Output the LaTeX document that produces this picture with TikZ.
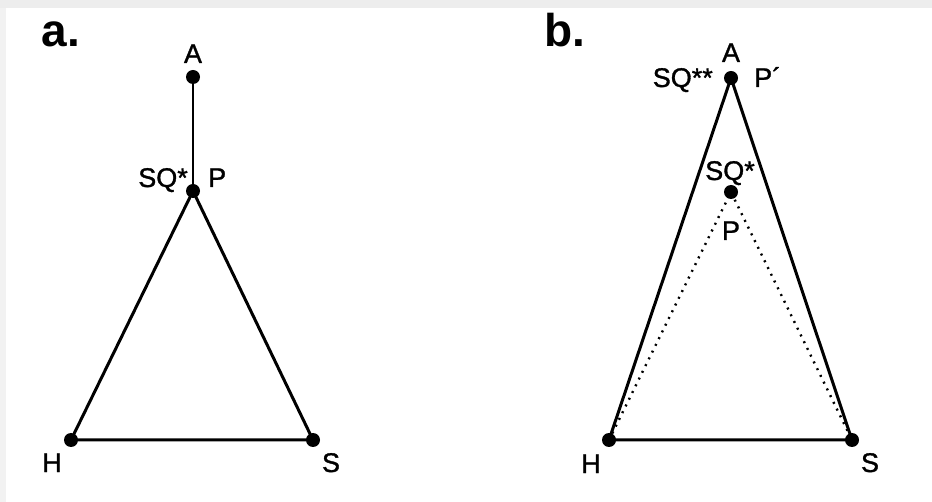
\documentclass[tikz,border=0pt]{standalone}
\usepackage{fontspec}
\setmainfont{Liberation Sans}
\newfontfamily\lblfont[FakeBold=1.2]{Liberation Sans}
\begin{document}
\begin{tikzpicture}[x=1pt,y=-1pt,
  pt/.style={circle,fill=black,inner sep=0pt,minimum size=14pt},
  lbl/.style={inner sep=0pt,font=\lblfont\fontsize{27}{27}\selectfont},
  edge/.style={line width=3pt},
  thinedge/.style={line width=2.2pt},
  dot/.style={line width=2.4pt,dash pattern=on 2pt off 5.5pt},
  ttl/.style={inner sep=0pt,font=\fontsize{46}{46}\selectfont\bfseries}]
\useasboundingbox (0,0) rectangle (932,502);
\fill[white] (0,0) rectangle (932,502);
\fill[black!7] (0,0) rectangle (932,8);
\fill[black!5] (0,8) rectangle (6,502);
% panel a
\node[ttl,anchor=base] (ta) at (61,47) {a.};
\node[pt] (aA) at (193,77) {};
\node[pt] (aP) at (193,191) {};
\node[pt] (aH) at (71,440) {};
\node[pt] (aS) at (313,440) {};
\draw[thinedge] (aA.center) -- (aP.center);
\draw[edge] (aP.center) -- (aS.center) -- (aH.center) -- cycle;
\node[lbl,anchor=base] (laA) at (193,63) {A};
\node[lbl,anchor=base east] (laSQ) at (188,187) {SQ*};
\node[lbl,anchor=base west] (laP) at (208,187) {P};
\node[lbl,anchor=base] (laH) at (52,472) {H};
\node[lbl,anchor=base] (laS) at (331,472) {S};
% panel b
\node[ttl,anchor=base] (tb) at (565,47) {b.};
\node[pt] (bA) at (731,78) {};
\node[pt] (bP) at (731,192) {};
\node[pt] (bH) at (609,440) {};
\node[pt] (bS) at (852,440) {};
\draw[edge] (bA.center) -- (bS.center) -- (bH.center) -- cycle;
\draw[dot] (bH.center) -- (bP.center) -- (bS.center);
\node[lbl,anchor=base] (lbA) at (731,62) {A};
\node[lbl,anchor=base east] (lbSQ) at (713,87) {SQ**};
\node[lbl,anchor=base west] (lbP2) at (754,87) {P´};
\node[lbl,anchor=base] (lbSQs) at (730,180) {SQ*};
\node[lbl,anchor=base] (lbP) at (731,240) {P};
\node[lbl,anchor=base] (lbH) at (591,473) {H};
\node[lbl,anchor=base] (lbS) at (870,472) {S};
\end{tikzpicture}
\end{document}
